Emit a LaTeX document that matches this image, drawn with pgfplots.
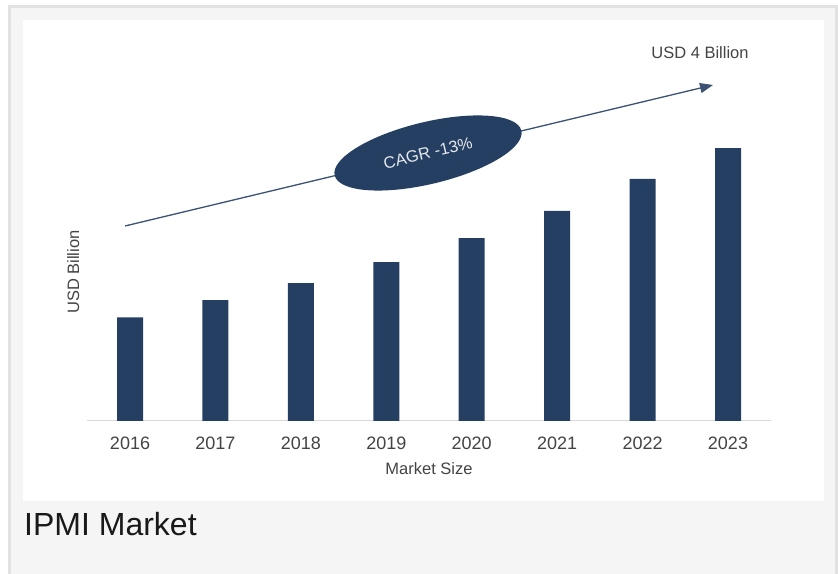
\documentclass[border=0pt]{standalone}
\usepackage{pgfplots}
\pgfplotsset{compat=1.18}
\usepackage{fontspec}
\setmainfont{Liberation Sans}
\usetikzlibrary{arrows.meta}

\definecolor{barblue}{HTML}{253F62}
\definecolor{txt}{HTML}{444444}
\definecolor{panel}{HTML}{F5F5F5}
\definecolor{frame}{HTML}{E2E2E2}
\definecolor{axisline}{HTML}{D9D9D9}

\begin{document}
\begin{tikzpicture}[x=1bp,y=1bp]
% page and panels
\fill[white] (0,0) rectangle (838,574);
\fill[frame] (8,0) rectangle (838,569);
\fill[panel] (11,0) rectangle (835,566);
\fill[white] (23,73) rectangle (824,554);

\begin{axis}[
    at={(87.3bp,153bp)}, anchor=south west,
    scale only axis, width=683.4bp, height=307bp,
    xmin=-0.5, xmax=7.5, ymin=0, ymax=4.5,
    axis x line*=bottom, axis y line=none,
    x axis line style={axisline, line width=1bp, -},
    xtick=data,
    xticklabels={2016,2017,2018,2019,2020,2021,2022,2023},
    major tick length=0pt,
    xticklabel style={anchor=base, yshift=-29bp, text=txt,
        font=\fontsize{18bp}{20bp}\selectfont},
    xlabel={Market Size},
    xlabel style={at={(axis description cs:0.5,0)}, anchor=base, yshift=-54bp,
        text=txt, font=\fontsize{16.5bp}{18bp}\selectfont},
    clip=false,
]
\addplot[ybar, bar width=26bp, fill=barblue, draw=none] coordinates {
    (0,1.52) (1,1.77) (2,2.02) (3,2.33) (4,2.68) (5,3.08) (6,3.55) (7,4.00)
};
\node[rotate=90, anchor=center, xshift=0bp, text=txt,
      font=\fontsize{16.5bp}{18bp}\selectfont]
    at ([xshift=-14bp]axis description cs:0,0.485) {USD Billion};
\end{axis}

% growth arrow and CAGR badge
\draw[color=barblue!90, line width=1.3bp, -{Triangle[length=13bp,width=10bp]}]
    (125,348) -- (713,489);
\fill[barblue, rotate around={13.5:(428,421)}] (428,421) ellipse [x radius=96, y radius=31];
\node[rotate=13.5, text=white!88!barblue, font=\fontsize{16.5bp}{18bp}\selectfont]
    at (428,421) {CAGR -13\%};
\node[text=txt, font=\fontsize{16.5bp}{18bp}\selectfont] at (700,521) {USD 4 Billion};

\node[anchor=base west, inner sep=0pt, text=black!90, font=\fontsize{32bp}{36bp}\selectfont]
    at (24,38) {IPMI Market};
\end{tikzpicture}
\end{document}
